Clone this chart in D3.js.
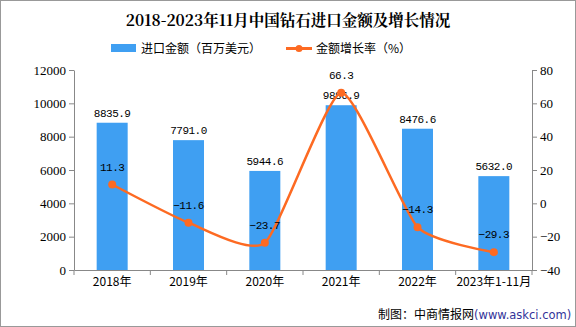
<!DOCTYPE html>
<html><head><meta charset="utf-8">
<script src="https://cdn.jsdelivr.net/npm/d3@7/dist/d3.min.js"></script>
<style>body{margin:0;background:#fff}svg{display:block}</style>
</head><body>
<script>
const categories = ["2018年","2019年","2020年","2021年","2022年","2023年1-11月"];
const importValues = [8835.9, 7791.0, 5944.6, 9886.9, 8476.6, 5632.0];
const growthRates = [11.3, -11.6, -23.7, 66.3, -14.3, -29.3];
const leftTicks = [0,2000,4000,6000,8000,10000,12000];
const rightTicks = [-40,-20,0,20,40,60,80];

(function(){
const W=576,H=327;
const svg=d3.select("body").append("svg").attr("width",W).attr("height",H);
svg.append("rect").attr("x",0.5).attr("y",0.5).attr("width",W-1).attr("height",H-1).attr("fill","#fff").attr("stroke","#999");

const pL=74,pR=532,pT=70,pB=270;
const x=d3.scaleBand().domain(categories).range([pL,pR]).paddingInner(0).paddingOuter(0);
const yL=d3.scaleLinear().domain([0,12000]).range([pB,pT]);
const yR=d3.scaleLinear().domain([-40,80]).range([pB,pT]);
const mono="'Liberation Mono','DejaVu Sans Mono',monospace";
const cjk="'Noto Sans CJK SC',sans-serif";

svg.append("text").attr("x",288).attr("y",26).attr("text-anchor","middle")
  .attr("font-family","'Noto Serif CJK SC','Noto Sans CJK SC',serif").attr("font-weight","bold").attr("font-size",15.5)
  .text("2018-2023年11月中国钻石进口金额及增长情况");

// legend
svg.append("rect").attr("x",111).attr("y",44).attr("width",25).attr("height",8).attr("fill","#3f9ff2");
svg.append("text").attr("x",141).attr("y",52.5).attr("font-family",cjk).attr("font-size",12).text("进口金额（百万美元）");
svg.append("line").attr("x1",286).attr("x2",312).attr("y1",48.5).attr("y2",48.5).attr("stroke","#fd6a22").attr("stroke-width",3);
svg.append("circle").attr("cx",299).attr("cy",48.5).attr("r",3.5).attr("fill","#fd6a22");
svg.append("text").attr("x",316).attr("y",52.5).attr("font-family",cjk).attr("font-size",12).text("金额增长率（%）");

// axes
const axL=svg.append("g").attr("transform",`translate(${pL},0)`).call(d3.axisLeft(yL).tickValues(leftTicks).tickSize(5).tickSizeOuter(0).tickFormat(d3.format("d")));
const axR=svg.append("g").attr("transform",`translate(${pR},0)`).call(d3.axisRight(yR).tickValues(rightTicks).tickSize(5).tickSizeOuter(0).tickFormat(d=>d<0?"−"+Math.abs(d):String(d)));
const axB=svg.append("g").attr("transform",`translate(0,${pB})`).call(d3.axisBottom(x).tickSize(0).tickSizeOuter(0));
[axL,axR,axB].forEach(g=>{g.selectAll("path,line").attr("stroke","#888");g.selectAll("text").attr("fill","#000").attr("font-size",12);});
axL.selectAll("text").attr("font-family","'Liberation Serif',serif").attr("font-size",13);
axR.selectAll("text").attr("font-family","'Liberation Serif',serif").attr("font-size",13);
axB.selectAll("text").attr("font-family",cjk).attr("dy","1.1em");
const bounds=categories.map(c=>x(c)).concat([pR]);
svg.append("g").selectAll("line").data(bounds).join("line")
  .attr("x1",d=>d).attr("x2",d=>d).attr("y1",pB).attr("y2",pB+5).attr("stroke","#888");

// bars
const bw=31;
svg.append("g").selectAll("rect").data(importValues).join("rect")
  .attr("x",(d,i)=>x(categories[i])+x.bandwidth()/2-bw/2).attr("width",bw)
  .attr("y",d=>yL(d)).attr("height",d=>pB-yL(d)).attr("fill","#3f9ff2");
svg.append("g").selectAll("text").data(importValues).join("text")
  .attr("x",(d,i)=>x(categories[i])+x.bandwidth()/2).attr("y",d=>yL(d)-6)
  .attr("text-anchor","middle").attr("font-family",mono).attr("font-size",11).attr("letter-spacing",-0.5).text(d=>d.toFixed(1));

// line
const pts=growthRates.map((d,i)=>[x(categories[i])+x.bandwidth()/2,yR(d)]);
svg.append("path").attr("d",d3.line().curve(d3.curveCardinal.tension(0.45))(pts))
  .attr("fill","none").attr("stroke","#fd6a22").attr("stroke-width",2.5);
svg.append("g").selectAll("circle").data(pts).join("circle")
  .attr("cx",d=>d[0]).attr("cy",d=>d[1]).attr("r",4).attr("fill","#fd6a22");
svg.append("g").selectAll("text").data(growthRates).join("text")
  .attr("x",(d,i)=>pts[i][0]).attr("y",(d,i)=>pts[i][1]-14)
  .attr("text-anchor","middle").attr("font-family",mono).attr("font-size",11).attr("letter-spacing",-0.5).text(d=>(d<0?"−":"")+Math.abs(d).toFixed(1));

// source
svg.append("text").attr("x",378).attr("y",319).attr("font-family",cjk).attr("font-size",12).text("制图：中商情报网")
  .append("tspan").attr("fill","#333399").attr("font-family","'DejaVu Sans',sans-serif").attr("font-size",11.5).text("(www.askci.com)");
})();
</script>
</body></html>
